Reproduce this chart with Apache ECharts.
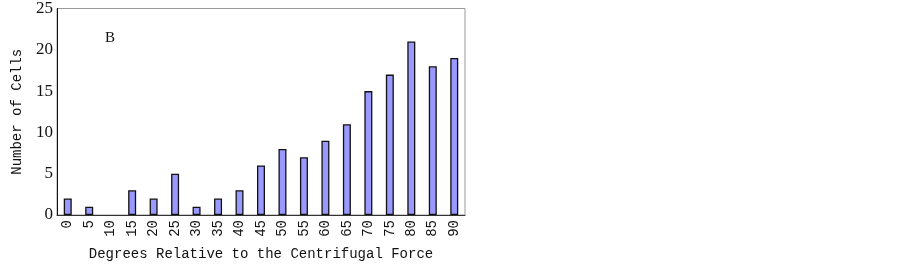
<!DOCTYPE html>
<html>
<head>
<meta charset="utf-8">
<script src="https://cdn.jsdelivr.net/npm/echarts@6/dist/echarts.min.js"></script>
<style>
  html, body { margin: 0; padding: 0; background: #fff; }
  #chart { width: 903px; height: 266px; }
</style>
</head>
<body>
<div id="chart"></div>
<script>
  // angle categories and counts
  const angles = ['0', '5', '10', '15', '20', '25', '30', '35', '40', '45',
                  '50', '55', '60', '65', '70', '75', '80', '85', '90'];
  const cellCounts = [2, 1, 0, 3, 2, 5, 1, 2, 3, 6, 8, 7, 9, 11, 15, 17, 21, 18, 19];
  const yTicks = [0, 25, 5]; // min, max, interval

  // empty bins get no outline, like the original
  const barData = cellCounts.map(v => v === 0 ? { value: v, itemStyle: { borderWidth: 0 } } : v);

  let chart = echarts.init(document.getElementById('chart'));
  chart.setOption({
    animation: false,
    grid: {
      left: 57,
      top: 8,
      width: 408,
      height: 211,
      show: true,
      borderColor: '#999',
      borderWidth: 1
    },
    graphic: [{
      type: 'text',
      left: 105,
      top: 31,
      style: {
        text: 'B',
        font: '15px "Liberation Serif"',
        fill: '#111'
      }
    }],
    xAxis: {
      type: 'category',
      data: angles,
      name: 'Degrees Relative to the Centrifugal Force',
      nameLocation: 'middle',
      nameGap: 32,
      nameTextStyle: {
        fontFamily: 'Liberation Mono',
        fontSize: 14,
        color: '#111'
      },
      axisLine: { lineStyle: { color: '#333', width: 1 } },
      axisTick: { show: false },
      axisLabel: {
        rotate: 90,
        margin: 5,
        interval: 0,
        fontFamily: 'Liberation Mono',
        fontSize: 14,
        color: '#111'
      }
    },
    yAxis: {
      type: 'value',
      min: yTicks[0],
      max: yTicks[1],
      interval: yTicks[2],
      name: 'Number of Cells',
      nameLocation: 'middle',
      nameGap: 33,
      nameTextStyle: {
        fontFamily: 'Liberation Mono',
        fontSize: 14,
        color: '#111'
      },
      axisLine: { show: true, lineStyle: { color: '#111', width: 1 } },
      axisTick: { show: false },
      splitLine: { show: false },
      axisLabel: {
        margin: 4,
        fontFamily: 'Liberation Serif',
        fontSize: 17,
        color: '#111'
      }
    },
    series: [{
      type: 'bar',
      data: barData,
      barWidth: 8,
      itemStyle: {
        color: '#9999ff',
        borderColor: '#111',
        borderWidth: 1.3
      }
    }]
  });
</script>
</body>
</html>
